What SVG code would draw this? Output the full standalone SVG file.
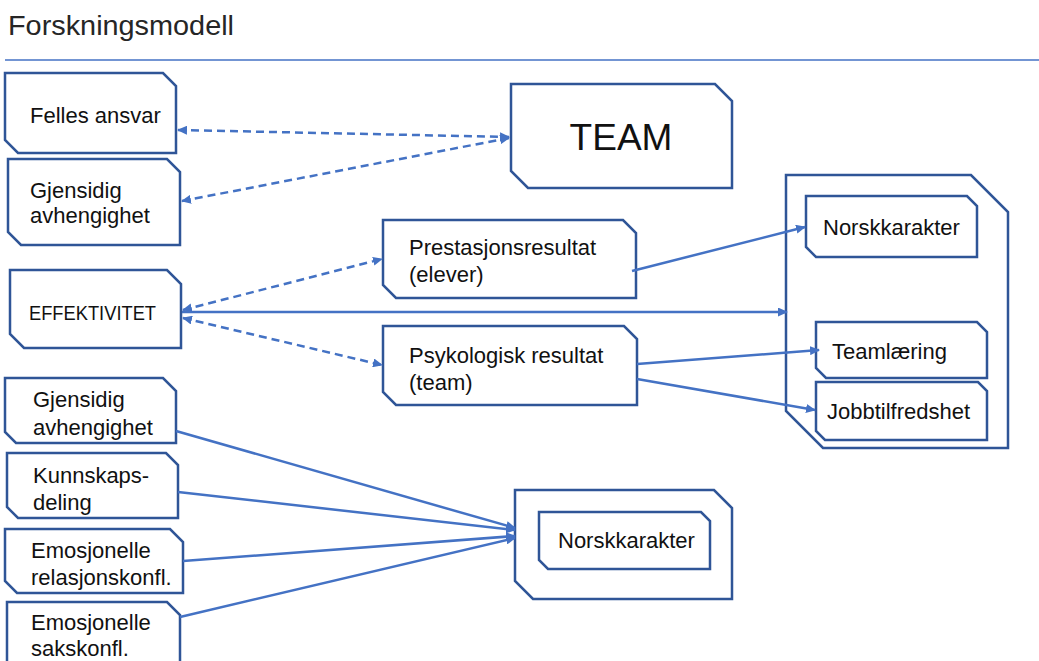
<svg xmlns="http://www.w3.org/2000/svg" width="1039" height="661" viewBox="0 0 1039 661">
<style>
.n{fill:#fff;stroke:#2F5597;stroke-width:2.5;stroke-linejoin:miter}
.t{font-family:"Liberation Sans",Arial,sans-serif;font-size:22px;fill:#111}
.c{fill:none;stroke:#4472C4;stroke-width:2.5}
.d{stroke-dasharray:8 5}
</style>
<defs>
<marker id="ah" viewBox="0 0 10 9" refX="9" refY="4.5" markerWidth="10" markerHeight="9" markerUnits="userSpaceOnUse" orient="auto-start-reverse">
<path d="M0,0 L10,4.5 L0,9 Z" fill="#4472C4"/>
</marker>
</defs>
<rect width="1039" height="661" fill="#fff"/>
<text x="8" y="35" textLength="226" lengthAdjust="spacingAndGlyphs" style="font-family:'Liberation Sans',Arial,sans-serif;font-size:28px;fill:#262626">Forskningsmodell</text>
<line x1="5" y1="60" x2="1039" y2="60" stroke="#4472C4" stroke-width="1.5"/>

<g id="felles"><path class="n" d="M5,73 H163 L176,86 V153 H18 L5,140 Z"/><text class="t" x="30" y="123">Felles ansvar</text></g>
<g id="gjensidig1"><path class="n" d="M8,159 H167 L180,172 V245 H21 L8,232 Z"/><text class="t" x="30" y="198">Gjensidig</text><text class="t" x="30" y="223">avhengighet</text></g>
<g id="team"><path class="n" d="M511,84 H715 L732,101 V188 H528 L511,171 Z"/><text x="621" y="150" text-anchor="middle" style="font-family:'Liberation Sans',Arial,sans-serif;font-size:37px;fill:#111">TEAM</text></g>
<g id="effektivitet"><path class="n" d="M10,270 H167 L181,284 V348 H24 L10,334 Z"/><text x="29" y="320" textLength="127" lengthAdjust="spacingAndGlyphs" style="font-family:'Liberation Sans',Arial,sans-serif;font-size:20px;fill:#111">EFFEKTIVITET</text></g>
<g id="prestasjon"><path class="n" d="M383,220 H623 L636,233 V298 H396 L383,285 Z"/><text class="t" x="409" y="255">Prestasjonsresultat</text><text class="t" x="409" y="282">(elever)</text></g>
<g id="psykologisk"><path class="n" d="M383,326 H624 L637,339 V405 H396 L383,392 Z"/><text class="t" x="409" y="363">Psykologisk resultat</text><text class="t" x="409" y="390">(team)</text></g>
<g id="resultatgruppe"><path class="n" d="M786,175 H971 L1008,212 V448 H823 L786,411 Z"/></g>
<g id="norsk1"><path class="n" d="M806,196 H967 L977,206 V257 H816 L806,247 Z"/><text class="t" x="823" y="235">Norskkarakter</text></g>
<g id="teamlaering"><path class="n" d="M816,322 H977 L987,332 V378 H826 L816,368 Z"/><text class="t" x="832" y="359">Teamlæring</text></g>
<g id="jobbtilfredshet"><path class="n" d="M816,382 H978 L987,391 V440 H825 L816,431 Z"/><text class="t" x="827" y="419">Jobbtilfredshet</text></g>
<g id="gjensidig2"><path class="n" d="M5,378 H163 L176,391 V443 H16 L5,432 Z"/><text class="t" x="33" y="407">Gjensidig</text><text class="t" x="33" y="435">avhengighet</text></g>
<g id="kunnskap"><path class="n" d="M7,453 H166 L178,465 V518 H18 L7,507 Z"/><text class="t" x="33" y="483">Kunnskaps-</text><text class="t" x="33" y="510">deling</text></g>
<g id="emorel"><path class="n" d="M5,529 H170 L183,542 V593 H17 L5,581 Z"/><text class="t" x="31" y="558">Emosjonelle</text><text class="t" x="31" y="585">relasjonskonfl.</text></g>
<g id="emosak"><path class="n" d="M7,602 H167 L180,615 V690 H20 L7,677 Z"/><text class="t" x="31" y="630">Emosjonelle</text><text class="t" x="31" y="656">sakskonfl.</text></g>
<g id="bunngruppe"><path class="n" d="M515,490 H714 L732,508 V599 H533 L515,581 Z"/></g>
<g id="norsk2"><path class="n" d="M539,512 H701 L710,521 V569 H548 L539,560 Z"/><text class="t" x="558" y="548">Norskkarakter</text></g>

<g id="connectors">
<line class="c d" x1="178" y1="130" x2="509" y2="137" marker-start="url(#ah)" marker-end="url(#ah)"/>
<line class="c d" x1="182" y1="201" x2="509" y2="138" marker-start="url(#ah)" marker-end="url(#ah)"/>
<line class="c d" x1="183" y1="310" x2="382" y2="259" marker-start="url(#ah)" marker-end="url(#ah)"/>
<line class="c d" x1="183" y1="318" x2="382" y2="365" marker-start="url(#ah)" marker-end="url(#ah)"/>
<line class="c" x1="182" y1="312" x2="787" y2="312" marker-end="url(#ah)"/>
<line class="c" x1="632" y1="271" x2="805" y2="227" marker-end="url(#ah)"/>
<line class="c" x1="637" y1="364" x2="819" y2="350" marker-end="url(#ah)"/>
<line class="c" x1="637" y1="379" x2="815" y2="410" marker-end="url(#ah)"/>
<line class="c" x1="176" y1="431" x2="515" y2="528" marker-end="url(#ah)"/>
<line class="c" x1="178" y1="492" x2="515" y2="530" marker-end="url(#ah)"/>
<line class="c" x1="183" y1="561" x2="515" y2="536" marker-end="url(#ah)"/>
<line class="c" x1="180" y1="617" x2="515" y2="538" marker-end="url(#ah)"/>
</g>
</svg>
